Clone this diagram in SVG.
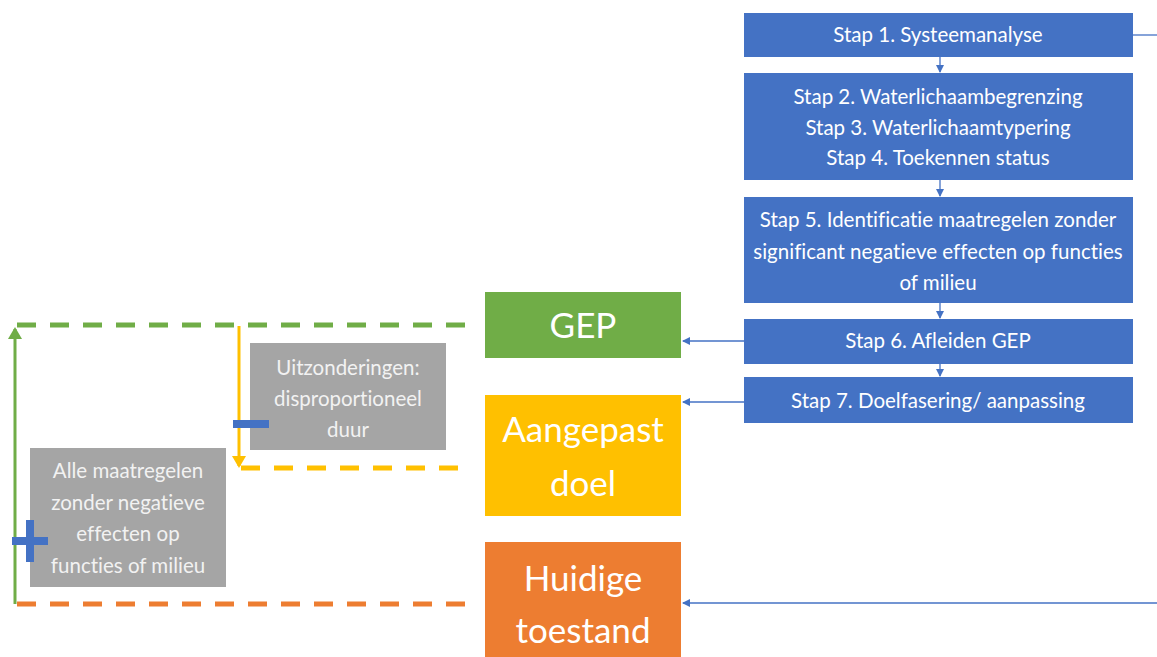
<svg xmlns="http://www.w3.org/2000/svg" width="1157" height="657" viewBox="0 0 1157 657">
<defs>
<style>
text{font-variant-ligatures:none}
.step{fill:#4472C4}
.st{font-family:Lato,"Open Sans",sans-serif;font-size:20.5px;fill:#fff;text-anchor:middle}
.big{font-family:Lato,"Open Sans",sans-serif;font-size:35px;fill:#fff;text-anchor:middle}
.gray{fill:#A5A5A5}
.gt{font-family:Lato,"Open Sans",sans-serif;font-size:20.5px;fill:#f2f2f2;text-anchor:middle}
.conn{stroke:#4472C4;stroke-width:1.3;fill:none}
</style>
<marker id="ab" markerWidth="8" markerHeight="8" refX="7" refY="4" orient="auto" markerUnits="userSpaceOnUse"><path d="M0,0 L8,4 L0,8 z" fill="#4472C4"/></marker>
<marker id="ag" markerWidth="12" markerHeight="14" refX="10" refY="7" orient="auto" markerUnits="userSpaceOnUse"><path d="M0,0 L12,7 L0,14 z" fill="#70AD47"/></marker>
<marker id="ay" markerWidth="12" markerHeight="14" refX="10" refY="7" orient="auto" markerUnits="userSpaceOnUse"><path d="M0,0 L12,7 L0,14 z" fill="#FFC000"/></marker>
</defs>
<rect width="1157" height="657" fill="#fff"/>
<g id="connectors">
<line class="conn" x1="940" y1="57" x2="940" y2="72" marker-end="url(#ab)"/>
<line class="conn" x1="940" y1="180" x2="940" y2="196" marker-end="url(#ab)"/>
<line class="conn" x1="940" y1="303" x2="940" y2="318" marker-end="url(#ab)"/>
<line class="conn" x1="940" y1="364" x2="940" y2="376" marker-end="url(#ab)"/>
<line class="conn" x1="744" y1="341" x2="683" y2="341" marker-end="url(#ab)"/>
<line class="conn" x1="744" y1="402" x2="683" y2="402" marker-end="url(#ab)"/>
<line class="conn" x1="1133" y1="35" x2="1157" y2="35"/>
<line class="conn" x1="1157" y1="603" x2="683" y2="603" marker-end="url(#ab)"/>
<line x1="17" y1="325" x2="466" y2="325" stroke="#70AD47" stroke-width="5" stroke-dasharray="19,14"/>
<line x1="17" y1="604" x2="466" y2="604" stroke="#ED7D31" stroke-width="5" stroke-dasharray="19,14"/>
<line x1="241" y1="468" x2="458" y2="468" stroke="#FFC000" stroke-width="5" stroke-dasharray="19,14"/>
<line x1="15" y1="604" x2="15" y2="329" stroke="#70AD47" stroke-width="3" marker-end="url(#ag)"/>
<line x1="239" y1="326" x2="239" y2="466" stroke="#FFC000" stroke-width="3" marker-end="url(#ay)"/>
</g>
<g id="stap1"><rect class="step" x="744" y="13" width="389" height="44"/><text class="st" x="938" y="42">Stap 1. Systeemanalyse</text></g>
<g id="stap2-4"><rect class="step" x="744" y="73" width="389" height="107"/>
<text class="st" x="938" y="104">Stap 2. Waterlichaambegrenzing</text>
<text class="st" x="938" y="135">Stap 3. Waterlichaamtypering</text>
<text class="st" x="938" y="165">Stap 4. Toekennen status</text></g>
<g id="stap5"><rect class="step" x="744" y="197" width="389" height="106"/>
<text class="st" x="938" y="227">Stap 5. Identificatie maatregelen zonder</text>
<text class="st" x="938" y="259">significant negatieve effecten op functies</text>
<text class="st" x="938" y="290">of milieu</text></g>
<g id="stap6"><rect class="step" x="744" y="319" width="389" height="45"/><text class="st" x="938" y="348">Stap 6. Afleiden GEP</text></g>
<g id="stap7"><rect class="step" x="744" y="377" width="389" height="46"/><text class="st" x="938" y="408">Stap 7. Doelfasering/ aanpassing</text></g>
<g id="gep"><rect x="485" y="292" width="196" height="66" fill="#70AD47"/><text class="big" x="583" y="338">GEP</text></g>
<g id="aangepast"><rect x="485" y="395" width="196" height="121" fill="#FFC000"/><text class="big" x="583" y="442">Aangepast</text><text class="big" x="583" y="496">doel</text></g>
<g id="huidige"><rect x="485" y="542" width="196" height="115" fill="#ED7D31"/><text class="big" x="583" y="591">Huidige</text><text class="big" x="583" y="643">toestand</text></g>
<g id="uitzonderingen"><rect class="gray" x="250" y="343" width="196" height="107"/>
<text class="gt" x="348" y="375">Uitzonderingen:</text>
<text class="gt" x="348" y="406">disproportioneel</text>
<text class="gt" x="348" y="437">duur</text></g>
<g id="alle"><rect class="gray" x="30" y="448" width="196" height="139"/>
<text class="gt" x="128" y="478">Alle maatregelen</text>
<text class="gt" x="128" y="510">zonder negatieve</text>
<text class="gt" x="128" y="541">effecten op</text>
<text class="gt" x="128" y="573">functies of milieu</text></g>
<g id="minus"><rect x="233" y="420" width="36" height="8" fill="#4472C4"/></g>
<g id="plus"><rect x="12" y="537" width="36" height="8" fill="#4472C4"/><rect x="26" y="520" width="8" height="42" fill="#4472C4"/></g>
</svg>
